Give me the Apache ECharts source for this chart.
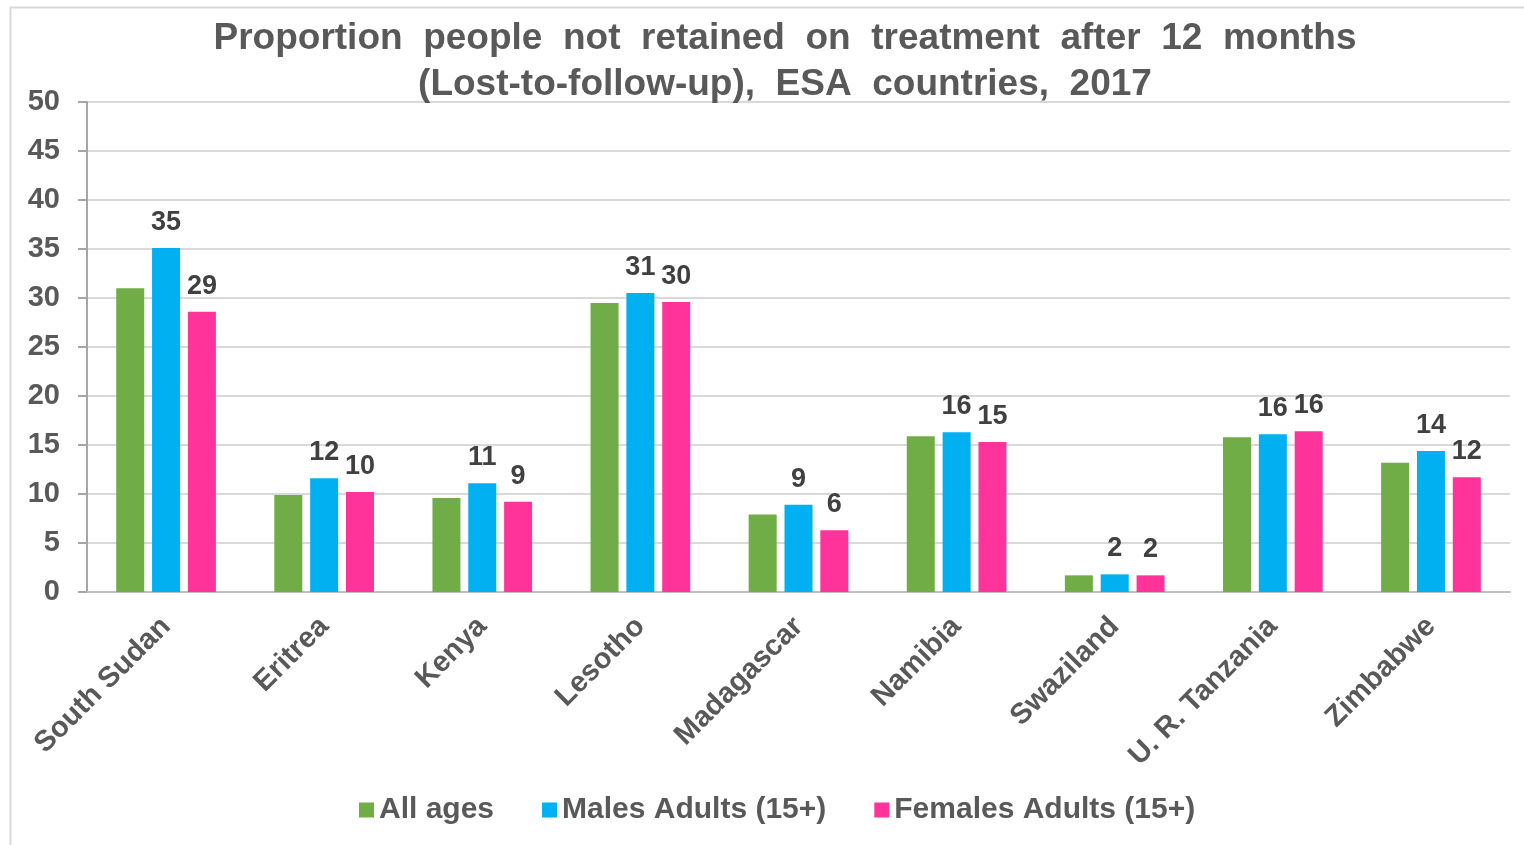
<!DOCTYPE html>
<html>
<head>
<meta charset="utf-8">
<script src="https://cdn.jsdelivr.net/npm/echarts@6/dist/echarts.min.js"></script>
<style>
  html, body { margin: 0; padding: 0; background: #fff; }
  #main { width: 1524px; height: 845px; }
</style>
</head>
<body>
<div id="main"></div>
<script>
// categories and values
const countries = ['South Sudan', 'Eritrea', 'Kenya', 'Lesotho', 'Madagascar', 'Namibia', 'Swaziland', 'U. R. Tanzania', 'Zimbabwe']
const allAges = [31.0, 9.9, 9.6, 29.5, 7.9, 15.9, 1.7, 15.8, 13.2]
const malesAdults = [35.1, 11.6, 11.1, 30.5, 8.9, 16.3, 1.8, 16.1, 14.4]
const femalesAdults = [28.6, 10.2, 9.2, 29.6, 6.3, 15.3, 1.7, 16.4, 11.7]

const textColor = '#595959'
const font = 'Liberation Sans, Arial, sans-serif'

const chart = echarts.init(document.getElementById('main'))

// only the two adult series carry value labels
const valueLabel = {
    show: true,
    position: 'top',
    distance: 12,
    color: '#404040',
    fontFamily: font,
    fontWeight: 'bold',
    fontSize: 27,
    formatter: p => Math.round(p.value)
}

chart.setOption({
    animation: false,
    title: {
        text: 'Proportion  people  not  retained  on  treatment  after  12  months\n(Lost-to-follow-up),  ESA  countries,  2017',
        left: 780,
        textAlign: 'center',
        top: 11,
        textStyle: {
            color: textColor,
            fontFamily: font,
            fontWeight: 'bold',
            fontSize: 37,
            lineHeight: 46
        }
    },
    graphic: [{
        type: 'rect',
        shape: { x: 10.5, y: 7.5, width: 1530, height: 860 },
        style: { fill: 'none', stroke: '#d9d9d9', lineWidth: 2 },
        silent: true,
        z: -1
    }],
    legend: {
        top: 790,
        left: 354,
        itemWidth: 15,
        itemHeight: 15,
        itemGap: 48,
        icon: 'rect',
        textStyle: {
            color: textColor,
            fontFamily: font,
            fontWeight: 'bold',
            fontSize: 30
        },
        data: ['All ages', 'Males Adults (15+)', 'Females Adults (15+)']
    },
    grid: {
        left: 87,
        right: 14,
        top: 102,
        bottom: 253,
        containLabel: false
    },
    xAxis: {
        type: 'category',
        data: countries,
        axisTick: { show: false },
        axisLine: { lineStyle: { color: '#bfbfbf', width: 2 } },
        axisLabel: {
            rotate: 45,
            interval: 0,
            margin: 30,
            color: textColor,
            fontFamily: font,
            fontWeight: 'bold',
            fontSize: 29
        }
    },
    yAxis: {
        type: 'value',
        min: 0,
        max: 50,
        interval: 5,
        axisLine: { show: true, lineStyle: { color: '#a6a6a6', width: 2 } },
        axisTick: { show: true, length: 9, lineStyle: { color: '#a6a6a6', width: 2 } },
        splitLine: { lineStyle: { color: '#d9d9d9', width: 2 } },
        axisLabel: {
            margin: 27,
            color: textColor,
            fontFamily: font,
            fontWeight: 'bold',
            fontSize: 29
        }
    },
    series: [
        {
            name: 'All ages',
            type: 'bar',
            data: allAges,
            barWidth: 28,
            barGap: '28%',
            itemStyle: { color: '#70AD47' }
        },
        {
            name: 'Males Adults (15+)',
            type: 'bar',
            data: malesAdults,
            barWidth: 28,
            barGap: '28%',
            itemStyle: { color: '#00B0F0' },
            label: valueLabel
        },
        {
            name: 'Females Adults (15+)',
            type: 'bar',
            data: femalesAdults,
            barWidth: 28,
            barGap: '28%',
            itemStyle: { color: '#FF3399' },
            label: valueLabel
        }
    ]
})
</script>
</body>
</html>
